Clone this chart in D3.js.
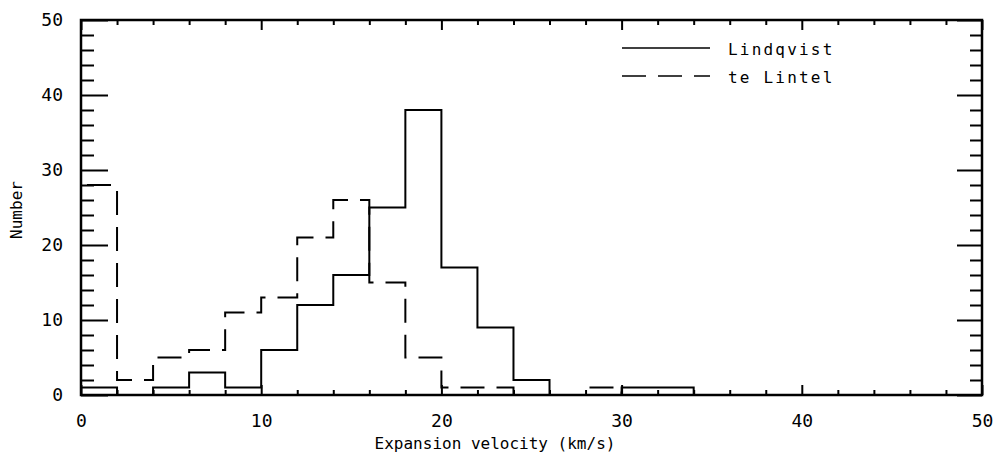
<!DOCTYPE html>
<html>
<head>
<meta charset="utf-8">
<script src="https://cdn.jsdelivr.net/npm/d3@7"></script>
<style>
  body { margin: 0; background: #fff; }
  text { font-family: "DejaVu Sans Mono", monospace; fill: #000; }
</style>
</head>
<body>
<div id="chart"></div>
<script>
// bin edges every 2 km/s, 0 .. 50
var binEdges = d3.range(0, 50, 2);
var lindqvist = [1, 0, 1, 3, 1, 6, 12, 16, 25, 38, 17, 9, 2, 0, 0, 1, 1, 0, 0, 0, 0, 0, 0, 0, 0];
var teLintel  = [28, 2, 5, 6, 11, 13, 21, 26, 15, 5, 1, 1, 0, 0, 1, 0, 0, 0, 0, 0, 0, 0, 0, 0, 0];
var xTicks = [0, 10, 20, 30, 40, 50];
var yTicks = [0, 10, 20, 30, 40, 50];
var seriesNames = ["Lindqvist", "te Lintel"];

var width = 995, height = 459;
var margin = {left: 81, right: 13, top: 20, bottom: 64};

var svg = d3.select("#chart").append("svg")
	.attr("width", width)
	.attr("height", height);

var x = d3.scaleLinear().domain([0, 50]).range([margin.left, width - margin.right]);
var y = d3.scaleLinear().domain([0, 50]).range([height - margin.bottom, margin.top]);

var minorX = d3.range(0, 51, 2).filter(function(d) { return d % 10 !== 0; });
var minorY = minorX;

function styleAxis(g) {
	g.select(".domain").remove();
	g.selectAll("line").attr("stroke", "#000").attr("stroke-width", 2);
	g.selectAll("text").style("font-size", "18px").style("font-family", "DejaVu Sans Mono");
}

// bottom axis, ticks point inward
svg.append("g")
	.attr("transform", "translate(0," + y(0) + ")")
	.call(d3.axisBottom(x).tickValues(xTicks).tickFormat(d3.format("d")).tickSizeInner(-10).tickSizeOuter(0).tickPadding(19))
	.call(styleAxis);
svg.append("g")
	.attr("transform", "translate(0," + y(0) + ")")
	.call(d3.axisBottom(x).tickValues(minorX).tickFormat("").tickSizeInner(-5).tickSizeOuter(0))
	.call(styleAxis);

// top axis
svg.append("g")
	.attr("transform", "translate(0," + y(50) + ")")
	.call(d3.axisTop(x).tickValues(xTicks).tickFormat("").tickSizeInner(-10).tickSizeOuter(0))
	.call(styleAxis);
svg.append("g")
	.attr("transform", "translate(0," + y(50) + ")")
	.call(d3.axisTop(x).tickValues(minorX).tickFormat("").tickSizeInner(-5).tickSizeOuter(0))
	.call(styleAxis);

// left axis
svg.append("g")
	.attr("transform", "translate(" + x(0) + ",0)")
	.call(d3.axisLeft(y).tickValues(yTicks).tickFormat(d3.format("d")).tickSizeInner(-27).tickSizeOuter(0).tickPadding(18))
	.call(styleAxis);
svg.append("g")
	.attr("transform", "translate(" + x(0) + ",0)")
	.call(d3.axisLeft(y).tickValues(minorY).tickFormat("").tickSizeInner(-13).tickSizeOuter(0))
	.call(styleAxis);

// right axis
svg.append("g")
	.attr("transform", "translate(" + x(50) + ",0)")
	.call(d3.axisRight(y).tickValues(yTicks).tickFormat("").tickSizeInner(-25).tickSizeOuter(0))
	.call(styleAxis);
svg.append("g")
	.attr("transform", "translate(" + x(50) + ",0)")
	.call(d3.axisRight(y).tickValues(minorY).tickFormat("").tickSizeInner(-12).tickSizeOuter(0))
	.call(styleAxis);

// histograms as stepped lines
function stepPoints(values) {
	var pts = [[0, 0]];
	values.forEach(function(v, i) { pts.push([binEdges[i], v]); });
	pts.push([50, 0]);
	return pts;
}

var line = d3.line()
	.x(function(d) { return x(d[0]); })
	.y(function(d) { return y(d[1]); })
	.curve(d3.curveStepAfter);

svg.append("path")
	.attr("d", line(stepPoints(teLintel)))
	.attr("fill", "none")
	.attr("stroke", "#000")
	.attr("stroke-width", 2)
	.attr("stroke-dasharray", "24,12");

svg.append("path")
	.attr("d", line(stepPoints(lindqvist)))
	.attr("fill", "none")
	.attr("stroke", "#000")
	.attr("stroke-width", 2);

// frame
svg.append("rect")
	.attr("x", x(0))
	.attr("y", y(50))
	.attr("width", x(50) - x(0))
	.attr("height", y(0) - y(50))
	.attr("fill", "none")
	.attr("stroke", "#000")
	.attr("stroke-width", 2.5);

// legend
var legend = svg.append("g");
var dashes = [null, "24,12"];
seriesNames.forEach(function(name, i) {
	var ly = 48 + i * 28;
	legend.append("line")
		.attr("x1", 622).attr("x2", 710)
		.attr("y1", ly).attr("y2", ly)
		.attr("stroke", "#000")
		.attr("stroke-width", 1.5)
		.attr("stroke-dasharray", dashes[i]);
	legend.append("text")
		.attr("x", 728)
		.attr("y", ly + 7)
		.style("font-size", "16px")
		.style("letter-spacing", "2.2px")
		.text(name);
});

// axis titles
svg.append("text")
	.attr("x", 495)
	.attr("y", 449)
	.attr("text-anchor", "middle")
	.style("font-size", "16px")
	.text("Expansion velocity (km/s)");

svg.append("text")
	.attr("transform", "translate(22,210) rotate(-90)")
	.attr("text-anchor", "middle")
	.style("font-size", "16px")
	.text("Number");
</script>
</body>
</html>
